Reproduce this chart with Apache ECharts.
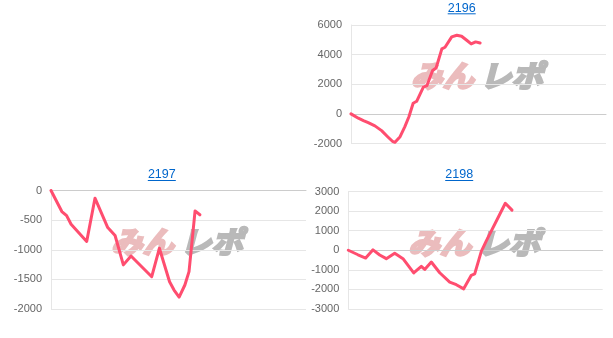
<!DOCTYPE html>
<html>
<head>
<meta charset="utf-8">
<script src="https://cdn.jsdelivr.net/npm/echarts@6/dist/echarts.min.js"></script>
<style>
html,body{margin:0;padding:0;background:#fff;}
#c{width:613px;height:338px;}
</style>
</head>
<body>
<div id="c"></div>
<script>
// Titles
const titles = ['2196', '2197', '2198'];

// Chart 2196
const games2196 = [0,230,390,540,750,960,1150,1300,1380,1540,1690,1820,1950,2060,2270,2380,2560,2670,2850,2950,3160,3320,3470,3630,3770,3910,4050];
const diff2196  = [0,-290,-450,-590,-810,-1130,-1540,-1850,-1920,-1540,-860,-180,720,850,1800,1900,2930,3100,4390,4500,5200,5310,5240,4970,4720,4860,4790];

// Chart 2197
const games2197 = [0,340,490,630,1120,1380,1780,2010,2270,2510,3160,3400,3720,3860,4020,4200,4330,4520,4670];
const diff2197  = [0,-355,-425,-570,-860,-130,-625,-760,-1255,-1105,-1455,-975,-1540,-1680,-1800,-1595,-1370,-345,-410];

// Chart 2198
const games2198 = [0,305,547,777,988,1195,1459,1720,2057,2296,2403,2610,2875,3189,3397,3629,3868,3975,4183,4340,4938,5148];
const diff2198  = [0,-230,-400,20,-240,-430,-150,-430,-1160,-820,-980,-600,-1150,-1630,-1760,-1970,-1280,-1210,-60,480,2400,2050];

// Y axis ranges [min, max, interval]
const yRange2196 = [-2000, 6000, 2000];
const yRange2197 = [-2000, 0, 500];
const yRange2198 = [-3000, 3000, 1000];
const gamesMax = 8000;

const toPairs = (xs, ys) => xs.map((x, i) => [x, ys[i]]);

const grids = [
  {left: 351, top: 25, width: 255, height: 118.5},
  {left: 51, top: 190.5, width: 255, height: 118.5},
  {left: 348.3, top: 191.5, width: 254.4, height: 117.5}
];
const ranges = [yRange2196, yRange2197, yRange2198];
const seriesData = [toPairs(games2196, diff2196), toPairs(games2197, diff2197), toPairs(games2198, diff2198)];
const titlePos = [[461.7, 8.4, 13.3], [161.8, 174.4, 180], [459.2, 174.4, 180]];

const LINE = '#ff4d6f';
const BLUE = '#0066cc';
const WM_FONT = 'italic bold 30px "Noto Sans CJK JP", sans-serif';
const WM_PINK = '#ebbcbd';
const WM_GRAY = '#b9b9b9';

const graphic = [];
titles.forEach((t, i) => {
  const [cx, cy, uy] = titlePos[i];
  graphic.push({
    type: 'text', x: cx, y: cy, silent: true,
    style: {text: t, fill: BLUE, font: '12.5px "Liberation Sans", Arial, sans-serif', align: 'center', verticalAlign: 'middle'}
  });
  graphic.push({
    type: 'rect', silent: true,
    shape: {x: cx - 14, y: uy, width: 28, height: 1},
    style: {fill: BLUE}
  });
  const g = grids[i];
  const wx = g.left + 126, wy = g.top + 51;
  graphic.push({
    type: 'text', x: wx - 3, y: wy, silent: true, z: 0, scaleX: 1.05,
    style: {text: 'みん', fill: WM_PINK, stroke: WM_PINK, lineWidth: 2.5, font: WM_FONT, align: 'right', verticalAlign: 'middle'}
  });
  graphic.push({
    type: 'text', x: wx + 3, y: wy, silent: true, z: 0, scaleX: 1.05,
    style: {text: 'レポ', fill: WM_GRAY, stroke: WM_GRAY, lineWidth: 2.5, font: WM_FONT, align: 'left', verticalAlign: 'middle'}
  });
});

const option = {
  animation: false,
  backgroundColor: '#fff',
  grid: grids.map(g => Object.assign({containLabel: false}, g)),
  xAxis: grids.map((g, i) => ({
    type: 'value', gridIndex: i, min: 0, max: gamesMax,
    axisLine: {show: true, onZero: true, lineStyle: {color: '#cccccc', width: 1}},
    axisTick: {show: false},
    axisLabel: {show: false},
    splitLine: {show: false}
  })),
  yAxis: ranges.map((r, i) => ({
    type: 'value', gridIndex: i, min: r[0], max: r[1], interval: r[2],
    axisLine: {show: true, lineStyle: {color: '#e6e6e6'}},
    axisTick: {show: false},
    axisLabel: {color: '#666', fontSize: 11, margin: 9, fontFamily: '"Liberation Sans", Arial, sans-serif',
      formatter: v => String(v)},
    splitLine: {show: true, lineStyle: {color: '#e6e6e6'}}
  })),
  series: seriesData.map((d, i) => ({
    type: 'line', xAxisIndex: i, yAxisIndex: i, data: d,
    showSymbol: false, smooth: false, z: 5,
    lineStyle: {color: LINE, width: 3, join: 'round', cap: 'round'},
    itemStyle: {color: LINE}
  })),
  graphic: graphic
};

const chart = echarts.init(document.getElementById('c'), null, {renderer: 'canvas'});
chart.setOption(option);
</script>
</body>
</html>
